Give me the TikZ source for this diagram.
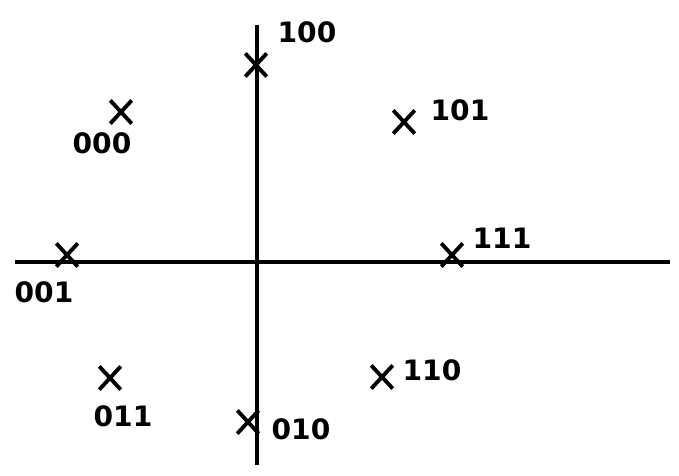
\documentclass[tikz,border=0pt]{standalone}
\usepackage{fontspec}
\setmainfont{DejaVu Sans}
\usetikzlibrary{positioning,shapes.misc}

\begin{document}
\begin{tikzpicture}[x=0.02cm,y=-0.02cm,font=\fontsize{16}{18}\selectfont\bfseries,
  cross/.style={draw,cross out,line width=2.2pt,minimum width=10pt,minimum height=11pt,inner sep=0pt},
  lbl/.style={inner sep=1pt}]
  \useasboundingbox (0,0) rectangle (679,476);
  % axes
  \coordinate (xl) at (15,262);
  \coordinate (xr) at (670,262);
  \coordinate (yt) at (257,25);
  \coordinate (yb) at (257,465);
  \draw[line width=2.3pt] (xl) -- (xr);
  \draw[line width=2.3pt] (yt) -- (yb);
  % points
  \node[cross] (p100) at (256,65) {};
  \node[cross] (p000) at (121,112) {};
  \node[cross] (p101) at (404,122) {};
  \node[cross] (p001) at (67,255) {};
  \node[cross] (p111) at (452,255) {};
  \node[cross] (p011) at (110,378) {};
  \node[cross] (p010) at (248,422) {};
  \node[cross] (p110) at (382,377) {};
  % labels
  \node[lbl] (l100) at (307,32) {100};
  \node[lbl] (l000) at (102,143) {000};
  \node[lbl] (l101) at (460,110) {101};
  \node[lbl] (l001) at (44,292) {001};
  \node[lbl] (l111) at (502,238) {111};
  \node[lbl] (l011) at (123,416) {011};
  \node[lbl] (l010) at (301,429) {010};
  \node[lbl] (l110) at (432,370) {110};
\end{tikzpicture}
\end{document}
